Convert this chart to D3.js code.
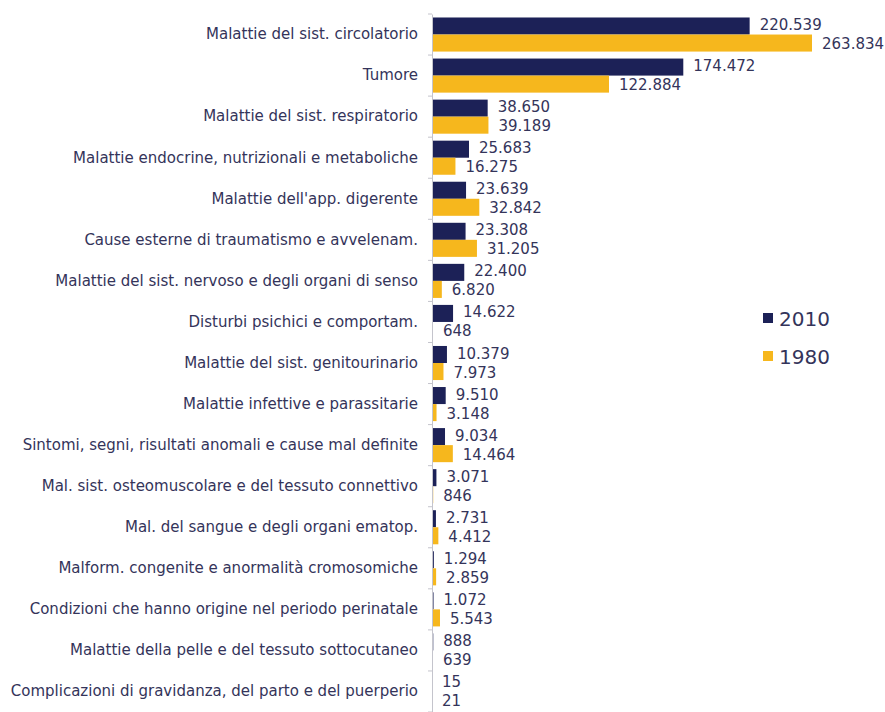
<!DOCTYPE html>
<html lang='it'>
<head>
  <title>Decessi per causa</title>
  <script src='https://cdn.jsdelivr.net/npm/d3@7/dist/d3.min.js'></script>
  <style>
    body { margin: 0; background: #fff; }
    text { font-family: "DejaVu Sans", Verdana, sans-serif; fill: #34345a; }
  </style>
</head>
<body>
  <script>
    // categories (top to bottom)
    const categories = [
      "Malattie del sist. circolatorio",
      "Tumore",
      "Malattie del sist. respiratorio",
      "Malattie endocrine, nutrizionali e metaboliche",
      "Malattie dell'app. digerente",
      "Cause esterne di traumatismo e avvelenam.",
      "Malattie del sist. nervoso e degli organi di senso",
      "Disturbi psichici e comportam.",
      "Malattie del sist. genitourinario",
      "Malattie infettive e parassitarie",
      "Sintomi, segni, risultati anomali e cause mal definite",
      "Mal. sist. osteomuscolare e del tessuto connettivo",
      "Mal. del sangue e degli organi ematop.",
      "Malform. congenite e anormalità cromosomiche",
      "Condizioni che hanno origine nel periodo perinatale",
      "Malattie della pelle e del tessuto sottocutaneo",
      "Complicazioni di gravidanza, del parto e del puerperio"
    ];
    const values2010 = [220539, 174472, 38650, 25683, 23639, 23308, 22400, 14622, 10379, 9510, 9034, 3071, 2731, 1294, 1072, 888, 15];
    const values1980 = [263834, 122884, 39189, 16275, 32842, 31205, 6820, 648, 7973, 3148, 14464, 846, 4412, 2859, 5543, 639, 21];
    const seriesNames = ["2010", "1980"];

    const width = 885, height = 712;
    const margins = { left: 432, top: 14, right: 73, bottom: 0 };
    const colorScale = d3.scaleOrdinal().domain(seriesNames).range(["#1c2157", "#f6b71d"]);
    const fmt = d3.formatLocale({ decimal: ",", thousands: ".", grouping: [3] }).format(",d");

    const svg = d3.select("body").append("svg")
      .attr("width", width)
      .attr("height", height);

    const xScale = d3.scaleLinear()
      .domain([0, d3.max(values1980.concat(values2010))])
      .range([margins.left, width - margins.right]);
    const yScale = d3.scaleBand()
      .domain(categories)
      .range([margins.top, margins.top + 41.06 * categories.length])
      .paddingInner(0.17)
      .paddingOuter(0.085);
    const inner = d3.scaleBand().domain(seriesNames).range([0, yScale.bandwidth()]);

    const rows = categories.map((c, i) => ({ cat: c, vals: [
      { key: "2010", v: values2010[i] },
      { key: "1980", v: values1980[i] }
    ]}));

    const groups = svg.selectAll(".row").data(rows).join("g")
      .attr("class", "row")
      .attr("transform", d => `translate(0, ${yScale(d.cat)})`);

    groups.selectAll("rect").data(d => d.vals).join("rect")
      .attr("x", xScale(0))
      .attr("y", d => inner(d.key))
      .attr("width", d => xScale(d.v) - xScale(0))
      .attr("height", inner.bandwidth())
      .attr("fill", d => colorScale(d.key));

    groups.selectAll(".val").data(d => d.vals).join("text")
      .attr("class", "val")
      .attr("x", d => xScale(d.v) + 10)
      .attr("y", d => inner(d.key) + inner.bandwidth() / 2 + (d.key === "2010" ? -1 : 1))
      .attr("dominant-baseline", "central")
      .style("font-size", "15px")
      .text(d => fmt(d.v));

    // y axis: line with tick marks at band boundaries
    const yAxis = d3.axisLeft(yScale).tickSize(0).tickPadding(14);
    const yAxisG = svg.append("g")
      .attr("transform", `translate(${margins.left}, 0)`)
      .call(yAxis);
    yAxisG.select(".domain").attr("stroke", "#c4c4cc");
    yAxisG.selectAll(".tick text")
      .style("font-size", "15px")
      .style("font-family", "'DejaVu Sans', Verdana, sans-serif")
      .attr("fill", "#34345a");
    const step = yScale.step();
    svg.append("g").selectAll("line")
      .data(d3.range(categories.length + 1))
      .join("line")
      .attr("x1", margins.left - 4)
      .attr("x2", margins.left)
      .attr("y1", i => margins.top + i * step)
      .attr("y2", i => margins.top + i * step)
      .attr("stroke", "#c4c4cc");

    // legend
    const legend = svg.append("g")
      .attr("transform", "translate(763, 318)")
      .selectAll("g").data(seriesNames).join("g")
      .attr("transform", (d, i) => `translate(0, ${i * 38})`);
    legend.append("rect")
      .attr("x", 0).attr("y", -5)
      .attr("width", 10).attr("height", 10)
      .attr("fill", d => colorScale(d));
    legend.append("text")
      .attr("x", 16).attr("y", 1)
      .attr("dominant-baseline", "central")
      .style("font-size", "20px")
      .text(d => d);
  </script>
</body>
</html>
